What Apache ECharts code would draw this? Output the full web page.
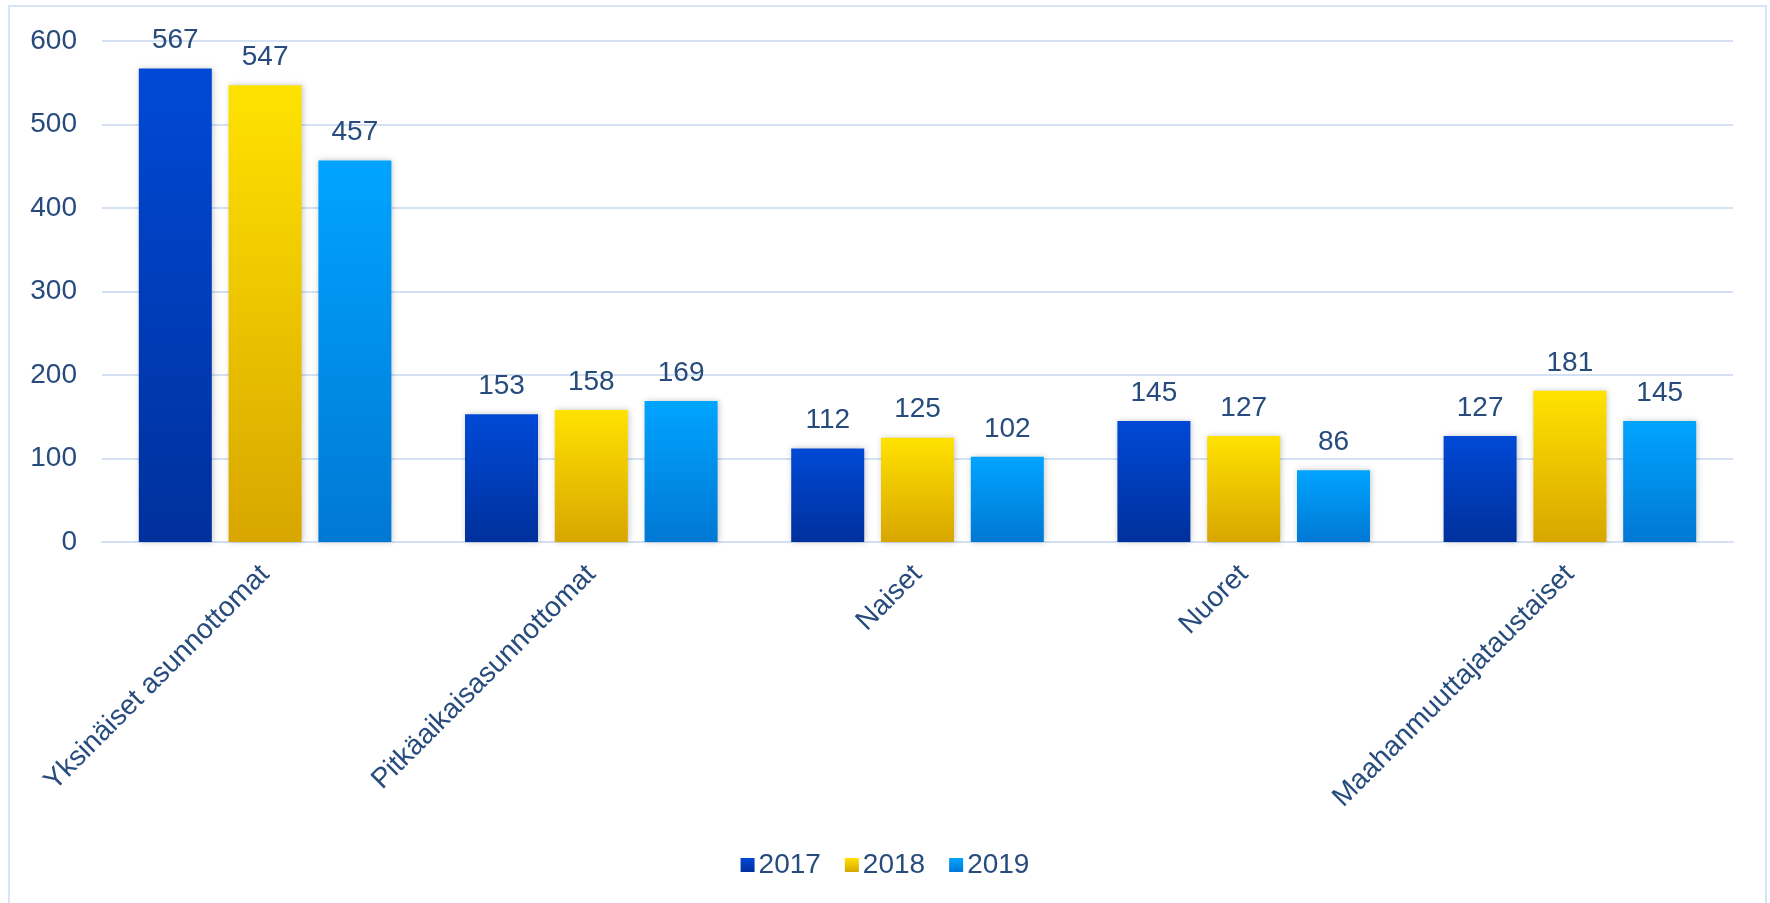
<!DOCTYPE html>
<html>
<head>
<meta charset="utf-8">
<script src="https://cdn.jsdelivr.net/npm/echarts@6/dist/echarts.min.js"></script>
<style>
html,body{margin:0;padding:0;background:#fff;overflow:hidden;}
#frame{position:absolute;left:8px;top:5px;width:1759px;height:920px;border:2px solid #d7e4f4;box-sizing:border-box;}
#chart{position:absolute;left:0;top:0;width:1770px;height:903px;}
</style>
</head>
<body>
<div id="frame"></div>
<div id="chart"></div>
<script>
const categories = ['Yksinäiset asunnottomat','Pitkäaikaisasunnottomat','Naiset','Nuoret','Maahanmuuttajataustaiset'];
const seriesNames = ['2017','2018','2019'];
const values2017 = [567,153,112,145,127];
const values2018 = [547,158,125,127,181];
const values2019 = [457,169,102,86,145];

const txt = '#264b7c';
const font = 'Liberation Sans, Arial, sans-serif';
function grad(top, bottom){
  return new echarts.graphic.LinearGradient(0,0,0,1,[{offset:0,color:top},{offset:1,color:bottom}]);
}
const colors = [grad('#0049d6','#00309c'), grad('#ffe200','#d8a600'), grad('#00a4ff','#0078d4')];
const data = [values2017, values2018, values2019];

const chart = echarts.init(document.getElementById('chart'));
chart.setOption({
  backgroundColor: 'transparent',
  textStyle: {fontFamily: font},
  grid: {left: 102, right: 37, top: 41, bottom: 361, containLabel: false},
  legend: {
    data: seriesNames,
    left: 'center', top: 846,
    itemWidth: 14, itemHeight: 14, itemGap: 24,
    icon: 'rect',
    textStyle: {color: txt, fontSize: 28, fontFamily: font, padding:[0,0,0,-1]}
  },
  xAxis: {
    type: 'category',
    data: categories,
    axisLine: {lineStyle: {color: '#d3e1f3', width: 2}},
    axisTick: {show: false},
    axisLabel: {rotate: 45, color: txt, fontSize: 28, margin: 28, interval: 0, fontFamily: font}
  },
  yAxis: {
    type: 'value', min: 0, max: 600, interval: 100,
    axisLine: {show: false}, axisTick: {show: false},
    splitLine: {lineStyle: {color: '#d3e1f3', width: 2}},
    axisLabel: {color: txt, fontSize: 28, margin: 25, fontFamily: font}
  },
  series: seriesNames.map((n,i)=>({
    name: n, type: 'bar', data: data[i],
    barWidth: 73, barGap: '23%',
    itemStyle: {color: colors[i], shadowBlur: 6, shadowColor: 'rgba(0,0,0,0.22)', shadowOffsetX: 1, shadowOffsetY: 0},
    label: {show: true, position: 'top', distance: 14, color: txt, fontSize: 28, fontFamily: font}
  }))
});
</script>
</body>
</html>
